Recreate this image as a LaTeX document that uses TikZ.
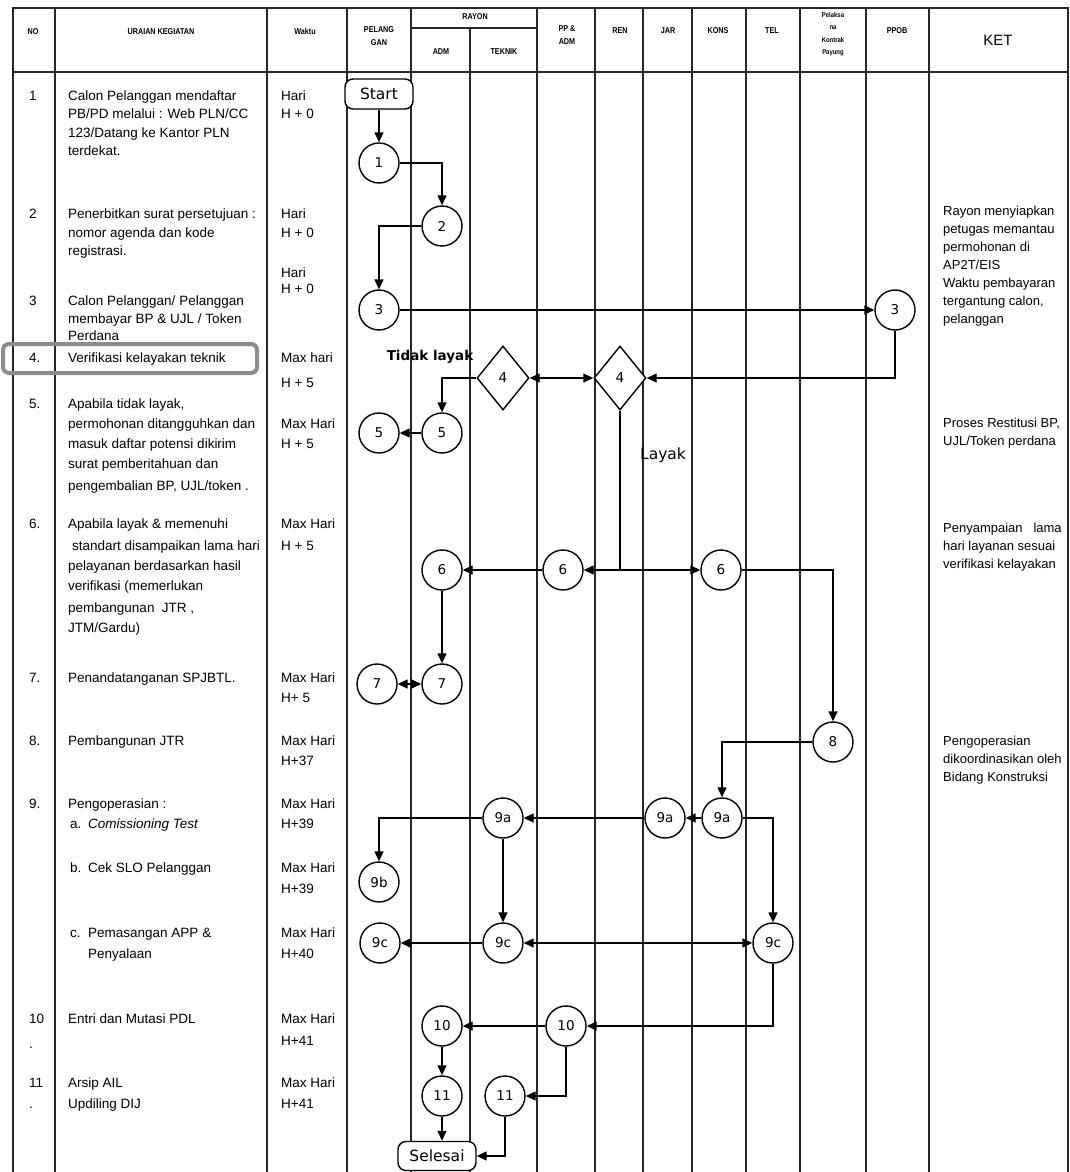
\documentclass[tikz,border=0pt]{standalone}
\usepackage{fontspec}
\setmainfont{Liberation Sans}
\newfontfamily\flowfont{DejaVu Sans}
\newfontfamily\hdrfont[FakeStretch=0.85]{Liberation Sans}
\usetikzlibrary{arrows.meta,shapes.geometric}
\begin{document}
\begin{tikzpicture}[x=1pt,y=-1pt,
  grid/.style={line width=1.3pt, draw=black!85},
  txt/.style={anchor=base west, inner sep=0pt, font=\fontsize{13.5}{16}\selectfont},
  ket/.style={anchor=base west, inner sep=0pt, font=\fontsize{13}{16}\selectfont},
  hdr/.style={inner sep=0pt, font=\hdrfont\bfseries\fontsize{8.5}{12.5}\selectfont, align=center},
  proc/.style={circle, draw, line width=1.4pt, fill=white, minimum size=40pt, inner sep=0pt, font=\flowfont\fontsize{13.5}{15}\selectfont},
  dec/.style={diamond, draw, line width=1.4pt, fill=white, minimum width=52pt, minimum height=64pt, inner sep=0pt, font=\flowfont\fontsize{13.5}{15}\selectfont},
  term/.style={rectangle, rounded corners=8pt, draw, line width=1.4pt, fill=white, inner sep=0pt, font=\flowfont\fontsize{15.5}{17}\selectfont},
  arr/.style={line width=1.4pt, -{Triangle[length=10pt,width=9pt]}},
  darr/.style={line width=1.4pt, {Triangle[length=10pt,width=9pt]}-{Triangle[length=10pt,width=9pt]}},
  hl/.style={draw=black!45, line width=4pt, rounded corners=6pt},
]
\useasboundingbox (0,0) rectangle (1070,1172);
\fill[white] (0,0) rectangle (1070,1172);

% ---------- table grid ----------
\draw[grid] (13,1172) -- (13,8) -- (1068,8) -- (1068,1172);
\draw[grid] (13,72) -- (1068,72);
\draw[grid] (411,28) -- (537,28);
\foreach \x in {55,267,347,411,537,595,643,692,746,800,866,929}
  \draw[grid] (\x,8) -- (\x,1172);
\draw[grid] (470,28) -- (470,1172);

% ---------- header ----------
\node[hdr] (hNO) at (33,32) {NO};
\node[hdr] (hUK) at (161,32) {URAIAN KEGIATAN};
\node[hdr] (hW) at (305,31) {Waktu};
\node[hdr] (hPel) at (379,36) {PELANG\\GAN};
\node[hdr] (hRay) at (475,17) {RAYON};
\node[hdr] (hAdm) at (441,52) {ADM};
\node[hdr] (hTek) at (504,52) {TEKNIK};
\node[hdr] (hPP) at (567,35) {PP \&\\ADM};
\node[hdr] (hRen) at (620,31) {REN};
\node[hdr] (hJar) at (668,31) {JAR};
\node[hdr] (hKons) at (718,31) {KONS};
\node[hdr] (hTel) at (772,31) {TEL};
\node[hdr, font=\hdrfont\bfseries\fontsize{7}{12.5}\selectfont] (hPk) at (833,34) {Pelaksa\\na\\Kontrak\\Payung};
\node[hdr] (hPPOB) at (897,31) {PPOB};
\node[inner sep=0pt, font=\fontsize{15}{17}\selectfont] (hKET) at (998,40) {KET};

% ---------- highlight box row 4 ----------
\draw[hl] (3,344) rectangle (257,373);

% ---------- NO column ----------
\foreach \yy/\mytext [count=\i] in {95/1, 213/2, 300/3, 357/4., 403/5., 523/6., 677/7., 740/8., 803/9., 1018/10, 1043/., 1082/11, 1103/.}
  \node[txt] (n\i) at (29,\yy+5) {\mytext};

% ---------- URAIAN column ----------
\foreach \yy/\mytext [count=\i] in {
  95/{Calon Pelanggan mendaftar},
  113/{PB/PD melalui : Web PLN/CC},
  132/{123/Datang ke Kantor PLN},
  150/{terdekat.},
  213/{Penerbitkan surat persetujuan :},
  232/{nomor agenda dan kode},
  250/{registrasi.},
  300/{Calon Pelanggan/ Pelanggan},
  318/{membayar BP \& UJL / Token},
  335/{Perdana},
  357/{Verifikasi kelayakan teknik},
  403/{Apabila tidak layak,},
  423/{permohonan ditangguhkan dan},
  443/{masuk daftar potensi dikirim},
  463/{surat pemberitahuan dan},
  485/{pengembalian BP, UJL/token .},
  523/{Apabila layak \& memenuhi},
  565/{pelayanan berdasarkan hasil},
  585/{verifikasi (memerlukan},
  607/{pembangunan \ JTR ,},
  627/{JTM/Gardu)},
  677/{Penandatanganan SPJBTL.},
  740/{Pembangunan JTR},
  803/{Pengoperasian :},
  1018/{Entri dan Mutasi PDL},
  1082/{Arsip AIL},
  1103/{Updiling DIJ}}
  \node[txt] (u\i) at (68,\yy+5) {\mytext};
\node[txt] (u6b) at (72,550) {standart disampaikan lama hari};
\node[txt] (u9a1) at (70,828) {a.};
\node[txt] (u9a2) at (88,828) {\textit{Comissioning Test}};
\node[txt] (u9b1) at (70,872) {b.};
\node[txt] (u9b2) at (88,872) {Cek SLO Pelanggan};
\node[txt] (u9c1) at (70,937) {c.};
\node[txt] (u9c2) at (88,937) {Pemasangan APP \&};
\node[txt] (u9c3) at (88,958) {Penyalaan};

% ---------- Waktu column ----------
\foreach \yy/\mytext [count=\i] in {
  95/Hari, 113/{H + 0}, 213/Hari, 232/{H + 0}, 272/Hari, 288/{H + 0},
  357/{Max hari}, 382/{H + 5}, 423/{Max Hari}, 443/{H + 5},
  523/{Max Hari}, 545/{H + 5}, 677/{Max Hari}, 697/{H+ 5},
  740/{Max Hari}, 760/{H+37}, 803/{Max Hari}, 823/{H+39},
  867/{Max Hari}, 888/{H+39}, 932/{Max Hari}, 953/{H+40},
  1018/{Max Hari}, 1040/{H+41}, 1082/{Max Hari}, 1103/{H+41}}
  \node[txt] (w\i) at (281,\yy+5) {\mytext};

% ---------- KET column ----------
\foreach \yy/\mytext [count=\i] in {
  210/{Rayon menyiapkan}, 228/{petugas memantau}, 246/{permohonan di},
  264/{AP2T/EIS}, 282/{Waktu pembayaran}, 300/{tergantung calon,},
  318/{pelanggan},
  422/{Proses Restitusi BP,}, 440/{UJL/Token perdana},
  527/{Penyampaian \ \ lama}, 545/{hari layanan sesuai}, 563/{verifikasi kelayakan},
  740/{Pengoperasian}, 758/{dikoordinasikan oleh}, 776/{Bidang Konstruksi}}
  \node[ket] (k\i) at (943,\yy+5) {\mytext};

% ---------- flow nodes ----------
\node[term, minimum width=68pt, minimum height=30pt] (start) at (379,94) {Start};
\node[proc] (c1) at (379,163) {1};
\node[proc] (c2) at (442,226) {2};
\node[proc] (c3) at (379,310) {3};
\node[proc] (c3r) at (895,310) {3};
\node[dec] (d4a) at (503,378) {4};
\node[dec] (d4b) at (620,378) {4};
\node[proc] (c5a) at (442,433) {5};
\node[proc] (c5p) at (379,433) {5};
\node[proc] (c6a) at (442,570) {6};
\node[proc] (c6pp) at (563,570) {6};
\node[proc] (c6k) at (721,570) {6};
\node[proc] (c7a) at (442,684) {7};
\node[proc] (c7p) at (377,684) {7};
\node[proc] (c8) at (833,742) {8};
\node[proc] (c9ak) at (722,818) {9a};
\node[proc] (c9aj) at (665,818) {9a};
\node[proc] (c9at) at (503,818) {9a};
\node[proc] (c9b) at (379,882) {9b};
\node[proc] (c9cp) at (380,943) {9c};
\node[proc] (c9ct) at (503,943) {9c};
\node[proc] (c9ctel) at (773,943) {9c};
\node[proc] (c10a) at (442,1026) {10};
\node[proc] (c10pp) at (566,1026) {10};
\node[proc] (c11a) at (442,1096) {11};
\node[proc] (c11t) at (505,1096) {11};
\node[term, minimum width=78pt, minimum height=29pt] (sel) at (437,1156) {Selesai};

\node[inner sep=0pt, font=\flowfont\bfseries\fontsize{13.5}{16}\selectfont] (lTL) at (430,357) {Tidak layak};
\node[inner sep=0pt, font=\flowfont\fontsize{15.5}{18}\selectfont] (lL) at (663,455) {Layak};

% ---------- connectors ----------
\draw[arr] (start) -- (c1);
\draw[arr] (c1.east) -| (c2.north);
\draw[arr] (c2.west) -| (c3.north);
\draw[arr] (c3) -- (c3r);
\draw[arr] (c3r.south) |- (d4b.east);
\draw[darr] (d4a.east) -- (d4b.west);
\draw[arr] (d4a.west) -| (c5a.north);
\draw[arr] (c5a) -- (c5p);
\coordinate (j6) at (620,570);
\draw[line width=1.4pt] (d4b.south) -- (j6);
\draw[arr] (j6) -- (c6pp.east);
\draw[arr] (j6) -- (c6k.west);
\draw[arr] (c6pp) -- (c6a);
\draw[arr] (c6a) -- (c7a);
\draw[darr] (c7a) -- (c7p);
\draw[arr] (c6k.east) -| (c8.north);
\draw[arr] (c8.west) -| (c9ak.north);
\draw[arr] (c9ak) -- (c9aj);
\draw[arr] (c9aj) -- (c9at);
\draw[arr] (c9at.west) -| (c9b.north);
\draw[arr] (c9at) -- (c9ct);
\draw[arr] (c9ak.east) -| (c9ctel.north);
\draw[darr] (c9ct) -- (c9ctel);
\draw[arr] (c9ct) -- (c9cp);
\draw[arr] (c9ctel.south) |- (c10pp.east);
\draw[arr] (c10pp) -- (c10a);
\draw[arr] (c10a) -- (c11a);
\draw[arr] (c10pp.south) |- (c11t.east);
\draw[arr] (c11a) -- (c11a |- sel.north);
\draw[arr] (c11t.south) |- (sel.east);
\end{tikzpicture}
\end{document}
